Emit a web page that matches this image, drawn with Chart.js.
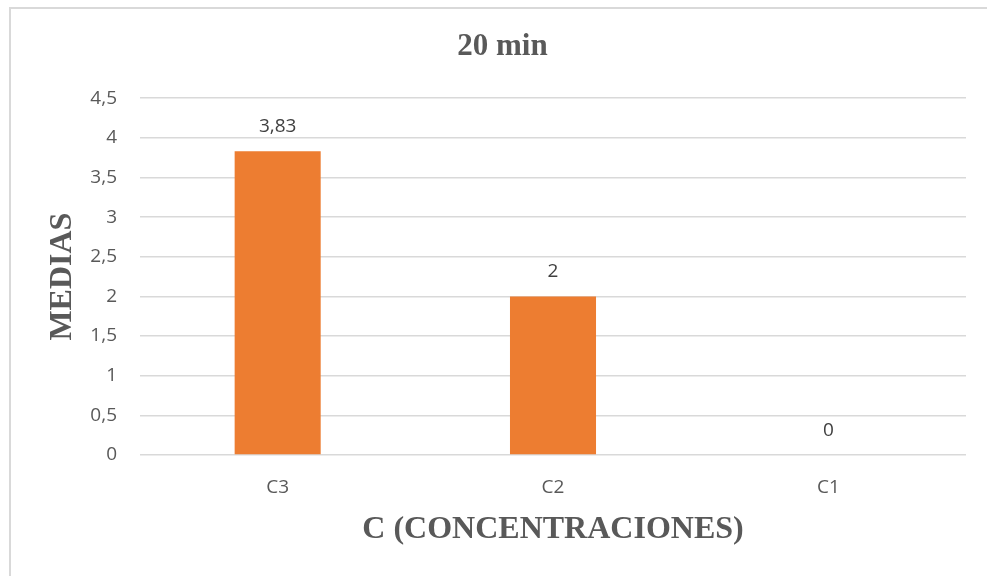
<!DOCTYPE html>
<html lang="es">
<head>
<meta charset="utf-8">
<title>20 min</title>
<script src="https://cdn.jsdelivr.net/npm/chart.js@4/dist/chart.umd.min.js"></script>
<style>
  html, body { margin: 0; padding: 0; background: #ffffff; overflow: hidden; }
  #wrap { position: relative; width: 987px; height: 576px; }
  #c { position: absolute; left: 0; top: 0; }
  #frame {
    position: absolute; left: 9px; top: 7px; width: 990px; height: 580px;
    border: 2px solid #d9d9d9; box-sizing: border-box; pointer-events: none;
  }
</style>
</head>
<body>
<div id="wrap">
  <canvas id="c" width="987" height="576"></canvas>
  <div id="frame"></div>
</div>
<script>
// Categories and mean values per concentration
const categories = ['C3', 'C2', 'C1'];
const medias = [3.83, 2, 0];

// Value axis range and tick step
const yMin = 0;
const yMax = 4.5;
const yStep = 0.5;

const chartTitle = '20 min';
const xTitle = 'C (CONCENTRACIONES)';
const yTitle = 'MEDIAS';

const decimalComma = v => String(v).replace('.', ',');

// Writes each bar's value above it
const valueLabels = {
  id: 'valueLabels',
  afterDatasetsDraw(chart) {
    const { ctx } = chart;
    const meta = chart.getDatasetMeta(0);
    ctx.save();
    ctx.font = '19px "Open Sans", sans-serif';
    ctx.fillStyle = '#404040';
    ctx.textAlign = 'center';
    ctx.textBaseline = 'alphabetic';
    meta.data.forEach((bar, i) => {
      const v = chart.data.datasets[0].data[i];
      ctx.fillText(decimalComma(v), bar.x, bar.y - 19);
    });
    ctx.restore();
  }
};

new Chart(document.getElementById('c'), {
  type: 'bar',
  data: {
    labels: categories,
    datasets: [{
      label: 'MEDIAS',
      data: medias,
      backgroundColor: '#ed7d31',
      borderWidth: 0,
      categoryPercentage: 1,
      barPercentage: 0.3125
    }]
  },
  options: {
    responsive: false,
    animation: false,
    devicePixelRatio: 1,
    layout: { padding: { left: 18, right: 0, top: 0, bottom: 0 } },
    plugins: {
      legend: { display: false },
      tooltip: { enabled: false },
      title: {
        display: true,
        text: chartTitle,
        color: '#595959',
        font: { family: '"Liberation Serif", "Times New Roman", serif', size: 31, weight: 'bold', lineHeight: 1.2 },
        padding: { top: 28, bottom: 33 }
      }
    },
    scales: {
      x: {
        grid: { display: false, drawTicks: false },
        border: { display: false },
        ticks: {
          color: '#595959',
          font: { family: '"Open Sans", sans-serif', size: 19 },
          padding: 21
        },
        title: {
          display: true,
          text: xTitle,
          color: '#595959',
          font: { family: '"Liberation Serif", "Times New Roman", serif', size: 32, weight: 'bold', lineHeight: 1.2 },
          padding: { top: 0, bottom: 27 }
        },
        afterFit(scale) { scale.height = 121; }
      },
      y: {
        min: yMin,
        max: yMax,
        grid: { color: '#d9d9d9', lineWidth: 1.6, drawTicks: false },
        border: { display: false },
        ticks: {
          stepSize: yStep,
          color: '#595959',
          font: { family: '"Open Sans", sans-serif', size: 19 },
          padding: 23,
          callback: v => decimalComma(v)
        },
        title: {
          display: true,
          text: yTitle,
          color: '#595959',
          font: { family: '"Liberation Serif", "Times New Roman", serif', size: 32, weight: 'bold', lineHeight: 1.2 },
          padding: { top: 26, bottom: 0 }
        },
        afterFit(scale) { scale.width = 122; }
      },
      yRight: {
        position: 'right',
        display: true,
        grid: { display: false, drawTicks: false },
        border: { display: false },
        ticks: { display: false },
        afterFit(scale) { scale.width = 21; }
      }
    }
  },
  plugins: [valueLabels]
});
</script>
</body>
</html>
